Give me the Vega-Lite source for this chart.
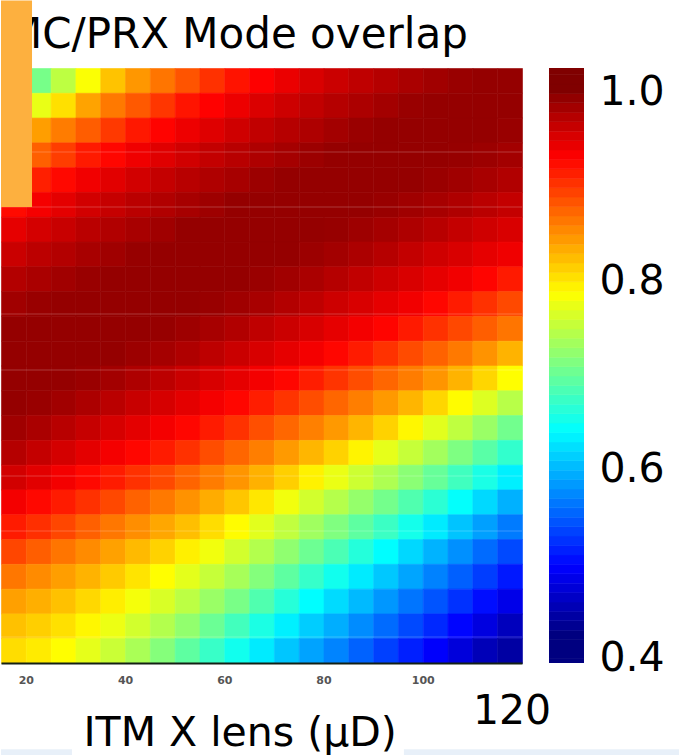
{
"$schema": "https://vega.github.io/schema/vega-lite/v6.json",
"padding": 0,
"background": "white",
"config": {"view": {"stroke": null}, "font": "DejaVu Sans"},
"datasets": {
"grid": [
{"x":15,"y":115,"v":0.670},{"x":20,"y":115,"v":0.705},{"x":25,"y":115,"v":0.745},{"x":30,"y":115,"v":0.780},{"x":35,"y":115,"v":0.817},{"x":40,"y":115,"v":0.842},{"x":45,"y":115,"v":0.861},{"x":50,"y":115,"v":0.880},{"x":55,"y":115,"v":0.900},{"x":60,"y":115,"v":0.917},{"x":65,"y":115,"v":0.928},{"x":70,"y":115,"v":0.939},{"x":75,"y":115,"v":0.949},{"x":80,"y":115,"v":0.957},{"x":85,"y":115,"v":0.964},{"x":90,"y":115,"v":0.970},{"x":95,"y":115,"v":0.976},{"x":100,"y":115,"v":0.981},{"x":105,"y":115,"v":0.986},{"x":110,"y":115,"v":0.988},{"x":115,"y":115,"v":0.988},
{"x":15,"y":110,"v":0.735},{"x":20,"y":110,"v":0.770},{"x":25,"y":110,"v":0.800},{"x":30,"y":110,"v":0.835},{"x":35,"y":110,"v":0.859},{"x":40,"y":110,"v":0.877},{"x":45,"y":110,"v":0.897},{"x":50,"y":110,"v":0.916},{"x":55,"y":110,"v":0.927},{"x":60,"y":110,"v":0.938},{"x":65,"y":110,"v":0.948},{"x":70,"y":110,"v":0.956},{"x":75,"y":110,"v":0.963},{"x":80,"y":110,"v":0.970},{"x":85,"y":110,"v":0.975},{"x":90,"y":110,"v":0.980},{"x":95,"y":110,"v":0.986},{"x":100,"y":110,"v":0.988},{"x":105,"y":110,"v":0.988},{"x":110,"y":110,"v":0.988},{"x":115,"y":110,"v":0.988},
{"x":15,"y":105,"v":0.811},{"x":20,"y":105,"v":0.838},{"x":25,"y":105,"v":0.857},{"x":30,"y":105,"v":0.875},{"x":35,"y":105,"v":0.895},{"x":40,"y":105,"v":0.914},{"x":45,"y":105,"v":0.926},{"x":50,"y":105,"v":0.937},{"x":55,"y":105,"v":0.946},{"x":60,"y":105,"v":0.955},{"x":65,"y":105,"v":0.963},{"x":70,"y":105,"v":0.969},{"x":75,"y":105,"v":0.974},{"x":80,"y":105,"v":0.980},{"x":85,"y":105,"v":0.985},{"x":90,"y":105,"v":0.988},{"x":95,"y":105,"v":0.988},{"x":100,"y":105,"v":0.988},{"x":105,"y":105,"v":0.988},{"x":110,"y":105,"v":0.988},{"x":115,"y":105,"v":0.986},
{"x":15,"y":100,"v":0.855},{"x":20,"y":100,"v":0.873},{"x":25,"y":100,"v":0.893},{"x":30,"y":100,"v":0.913},{"x":35,"y":100,"v":0.924},{"x":40,"y":100,"v":0.936},{"x":45,"y":100,"v":0.945},{"x":50,"y":100,"v":0.954},{"x":55,"y":100,"v":0.962},{"x":60,"y":100,"v":0.968},{"x":65,"y":100,"v":0.974},{"x":70,"y":100,"v":0.979},{"x":75,"y":100,"v":0.984},{"x":80,"y":100,"v":0.988},{"x":85,"y":100,"v":0.988},{"x":90,"y":100,"v":0.988},{"x":95,"y":100,"v":0.988},{"x":100,"y":100,"v":0.988},{"x":105,"y":100,"v":0.987},{"x":110,"y":100,"v":0.984},{"x":115,"y":100,"v":0.980},
{"x":15,"y":95,"v":0.890},{"x":20,"y":95,"v":0.910},{"x":25,"y":95,"v":0.923},{"x":30,"y":95,"v":0.935},{"x":35,"y":95,"v":0.944},{"x":40,"y":95,"v":0.953},{"x":45,"y":95,"v":0.961},{"x":50,"y":95,"v":0.968},{"x":55,"y":95,"v":0.973},{"x":60,"y":95,"v":0.978},{"x":65,"y":95,"v":0.984},{"x":70,"y":95,"v":0.988},{"x":75,"y":95,"v":0.988},{"x":80,"y":95,"v":0.988},{"x":85,"y":95,"v":0.988},{"x":90,"y":95,"v":0.988},{"x":95,"y":95,"v":0.988},{"x":100,"y":95,"v":0.985},{"x":105,"y":95,"v":0.982},{"x":110,"y":95,"v":0.977},{"x":115,"y":95,"v":0.972},
{"x":15,"y":90,"v":0.922},{"x":20,"y":90,"v":0.933},{"x":25,"y":90,"v":0.943},{"x":30,"y":90,"v":0.953},{"x":35,"y":90,"v":0.960},{"x":40,"y":90,"v":0.967},{"x":45,"y":90,"v":0.972},{"x":50,"y":90,"v":0.978},{"x":55,"y":90,"v":0.983},{"x":60,"y":90,"v":0.988},{"x":65,"y":90,"v":0.988},{"x":70,"y":90,"v":0.988},{"x":75,"y":90,"v":0.988},{"x":80,"y":90,"v":0.988},{"x":85,"y":90,"v":0.988},{"x":90,"y":90,"v":0.986},{"x":95,"y":90,"v":0.982},{"x":100,"y":90,"v":0.978},{"x":105,"y":90,"v":0.973},{"x":110,"y":90,"v":0.967},{"x":115,"y":90,"v":0.961},
{"x":15,"y":85,"v":0.942},{"x":20,"y":85,"v":0.952},{"x":25,"y":85,"v":0.959},{"x":30,"y":85,"v":0.967},{"x":35,"y":85,"v":0.972},{"x":40,"y":85,"v":0.977},{"x":45,"y":85,"v":0.982},{"x":50,"y":85,"v":0.988},{"x":55,"y":85,"v":0.988},{"x":60,"y":85,"v":0.988},{"x":65,"y":85,"v":0.988},{"x":70,"y":85,"v":0.988},{"x":75,"y":85,"v":0.988},{"x":80,"y":85,"v":0.987},{"x":85,"y":85,"v":0.983},{"x":90,"y":85,"v":0.979},{"x":95,"y":85,"v":0.974},{"x":100,"y":85,"v":0.968},{"x":105,"y":85,"v":0.961},{"x":110,"y":85,"v":0.955},{"x":115,"y":85,"v":0.949},
{"x":15,"y":80,"v":0.958},{"x":20,"y":80,"v":0.966},{"x":25,"y":80,"v":0.971},{"x":30,"y":80,"v":0.977},{"x":35,"y":80,"v":0.982},{"x":40,"y":80,"v":0.987},{"x":45,"y":80,"v":0.988},{"x":50,"y":80,"v":0.988},{"x":55,"y":80,"v":0.988},{"x":60,"y":80,"v":0.988},{"x":65,"y":80,"v":0.988},{"x":70,"y":80,"v":0.988},{"x":75,"y":80,"v":0.984},{"x":80,"y":80,"v":0.980},{"x":85,"y":80,"v":0.975},{"x":90,"y":80,"v":0.969},{"x":95,"y":80,"v":0.962},{"x":100,"y":80,"v":0.955},{"x":105,"y":80,"v":0.949},{"x":110,"y":80,"v":0.942},{"x":115,"y":80,"v":0.936},
{"x":15,"y":75,"v":0.971},{"x":20,"y":75,"v":0.976},{"x":25,"y":75,"v":0.981},{"x":30,"y":75,"v":0.986},{"x":35,"y":75,"v":0.988},{"x":40,"y":75,"v":0.988},{"x":45,"y":75,"v":0.988},{"x":50,"y":75,"v":0.988},{"x":55,"y":75,"v":0.988},{"x":60,"y":75,"v":0.988},{"x":65,"y":75,"v":0.985},{"x":70,"y":75,"v":0.981},{"x":75,"y":75,"v":0.976},{"x":80,"y":75,"v":0.970},{"x":85,"y":75,"v":0.963},{"x":90,"y":75,"v":0.956},{"x":95,"y":75,"v":0.949},{"x":100,"y":75,"v":0.942},{"x":105,"y":75,"v":0.935},{"x":110,"y":75,"v":0.925},{"x":115,"y":75,"v":0.913},
{"x":15,"y":70,"v":0.981},{"x":20,"y":70,"v":0.986},{"x":25,"y":70,"v":0.988},{"x":30,"y":70,"v":0.988},{"x":35,"y":70,"v":0.988},{"x":40,"y":70,"v":0.988},{"x":45,"y":70,"v":0.988},{"x":50,"y":70,"v":0.988},{"x":55,"y":70,"v":0.986},{"x":60,"y":70,"v":0.982},{"x":65,"y":70,"v":0.977},{"x":70,"y":70,"v":0.971},{"x":75,"y":70,"v":0.964},{"x":80,"y":70,"v":0.956},{"x":85,"y":70,"v":0.949},{"x":90,"y":70,"v":0.942},{"x":95,"y":70,"v":0.935},{"x":100,"y":70,"v":0.924},{"x":105,"y":70,"v":0.912},{"x":110,"y":70,"v":0.900},{"x":115,"y":70,"v":0.886},
{"x":15,"y":65,"v":0.988},{"x":20,"y":65,"v":0.988},{"x":25,"y":65,"v":0.988},{"x":30,"y":65,"v":0.988},{"x":35,"y":65,"v":0.988},{"x":40,"y":65,"v":0.988},{"x":45,"y":65,"v":0.987},{"x":50,"y":65,"v":0.983},{"x":55,"y":65,"v":0.978},{"x":60,"y":65,"v":0.972},{"x":65,"y":65,"v":0.964},{"x":70,"y":65,"v":0.957},{"x":75,"y":65,"v":0.950},{"x":80,"y":65,"v":0.942},{"x":85,"y":65,"v":0.934},{"x":90,"y":65,"v":0.925},{"x":95,"y":65,"v":0.913},{"x":100,"y":65,"v":0.900},{"x":105,"y":65,"v":0.887},{"x":110,"y":65,"v":0.874},{"x":115,"y":65,"v":0.861},
{"x":15,"y":60,"v":0.988},{"x":20,"y":60,"v":0.988},{"x":25,"y":60,"v":0.988},{"x":30,"y":60,"v":0.988},{"x":35,"y":60,"v":0.988},{"x":40,"y":60,"v":0.984},{"x":45,"y":60,"v":0.979},{"x":50,"y":60,"v":0.973},{"x":55,"y":60,"v":0.965},{"x":60,"y":60,"v":0.958},{"x":65,"y":60,"v":0.950},{"x":70,"y":60,"v":0.942},{"x":75,"y":60,"v":0.934},{"x":80,"y":60,"v":0.924},{"x":85,"y":60,"v":0.912},{"x":90,"y":60,"v":0.899},{"x":95,"y":60,"v":0.885},{"x":100,"y":60,"v":0.872},{"x":105,"y":60,"v":0.859},{"x":110,"y":60,"v":0.844},{"x":115,"y":60,"v":0.826},
{"x":15,"y":55,"v":0.988},{"x":20,"y":55,"v":0.988},{"x":25,"y":55,"v":0.988},{"x":30,"y":55,"v":0.985},{"x":35,"y":55,"v":0.980},{"x":40,"y":55,"v":0.974},{"x":45,"y":55,"v":0.966},{"x":50,"y":55,"v":0.958},{"x":55,"y":55,"v":0.950},{"x":60,"y":55,"v":0.942},{"x":65,"y":55,"v":0.934},{"x":70,"y":55,"v":0.924},{"x":75,"y":55,"v":0.911},{"x":80,"y":55,"v":0.898},{"x":85,"y":55,"v":0.884},{"x":90,"y":55,"v":0.870},{"x":95,"y":55,"v":0.857},{"x":100,"y":55,"v":0.843},{"x":105,"y":55,"v":0.826},{"x":110,"y":55,"v":0.806},{"x":115,"y":55,"v":0.783},
{"x":15,"y":50,"v":0.988},{"x":20,"y":50,"v":0.986},{"x":25,"y":50,"v":0.981},{"x":30,"y":50,"v":0.975},{"x":35,"y":50,"v":0.967},{"x":40,"y":50,"v":0.959},{"x":45,"y":50,"v":0.951},{"x":50,"y":50,"v":0.943},{"x":55,"y":50,"v":0.933},{"x":60,"y":50,"v":0.924},{"x":65,"y":50,"v":0.911},{"x":70,"y":50,"v":0.898},{"x":75,"y":50,"v":0.884},{"x":80,"y":50,"v":0.870},{"x":85,"y":50,"v":0.856},{"x":90,"y":50,"v":0.841},{"x":95,"y":50,"v":0.825},{"x":100,"y":50,"v":0.806},{"x":105,"y":50,"v":0.784},{"x":110,"y":50,"v":0.763},{"x":115,"y":50,"v":0.742},
{"x":15,"y":45,"v":0.982},{"x":20,"y":45,"v":0.976},{"x":25,"y":45,"v":0.968},{"x":30,"y":45,"v":0.960},{"x":35,"y":45,"v":0.951},{"x":40,"y":45,"v":0.943},{"x":45,"y":45,"v":0.933},{"x":50,"y":45,"v":0.924},{"x":55,"y":45,"v":0.912},{"x":60,"y":45,"v":0.899},{"x":65,"y":45,"v":0.883},{"x":70,"y":45,"v":0.869},{"x":75,"y":45,"v":0.855},{"x":80,"y":45,"v":0.841},{"x":85,"y":45,"v":0.825},{"x":90,"y":45,"v":0.808},{"x":95,"y":45,"v":0.787},{"x":100,"y":45,"v":0.766},{"x":105,"y":45,"v":0.746},{"x":110,"y":45,"v":0.725},{"x":115,"y":45,"v":0.702},
{"x":15,"y":40,"v":0.970},{"x":20,"y":40,"v":0.961},{"x":25,"y":40,"v":0.952},{"x":30,"y":40,"v":0.943},{"x":35,"y":40,"v":0.933},{"x":40,"y":40,"v":0.924},{"x":45,"y":40,"v":0.912},{"x":50,"y":40,"v":0.900},{"x":55,"y":40,"v":0.884},{"x":60,"y":40,"v":0.870},{"x":65,"y":40,"v":0.856},{"x":70,"y":40,"v":0.840},{"x":75,"y":40,"v":0.824},{"x":80,"y":40,"v":0.808},{"x":85,"y":40,"v":0.789},{"x":90,"y":40,"v":0.768},{"x":95,"y":40,"v":0.750},{"x":100,"y":40,"v":0.730},{"x":105,"y":40,"v":0.709},{"x":110,"y":40,"v":0.688},{"x":115,"y":40,"v":0.666},
{"x":15,"y":35,"v":0.953},{"x":20,"y":35,"v":0.944},{"x":25,"y":35,"v":0.934},{"x":30,"y":35,"v":0.923},{"x":35,"y":35,"v":0.912},{"x":40,"y":35,"v":0.900},{"x":45,"y":35,"v":0.886},{"x":50,"y":35,"v":0.871},{"x":55,"y":35,"v":0.857},{"x":60,"y":35,"v":0.843},{"x":65,"y":35,"v":0.827},{"x":70,"y":35,"v":0.810},{"x":75,"y":35,"v":0.790},{"x":80,"y":35,"v":0.771},{"x":85,"y":35,"v":0.754},{"x":90,"y":35,"v":0.736},{"x":95,"y":35,"v":0.716},{"x":100,"y":35,"v":0.696},{"x":105,"y":35,"v":0.674},{"x":110,"y":35,"v":0.652},{"x":115,"y":35,"v":0.629},
{"x":15,"y":30,"v":0.934},{"x":20,"y":30,"v":0.923},{"x":25,"y":30,"v":0.912},{"x":30,"y":30,"v":0.900},{"x":35,"y":30,"v":0.887},{"x":40,"y":30,"v":0.872},{"x":45,"y":30,"v":0.859},{"x":50,"y":30,"v":0.845},{"x":55,"y":30,"v":0.830},{"x":60,"y":30,"v":0.815},{"x":65,"y":30,"v":0.796},{"x":70,"y":30,"v":0.775},{"x":75,"y":30,"v":0.757},{"x":80,"y":30,"v":0.740},{"x":85,"y":30,"v":0.722},{"x":90,"y":30,"v":0.703},{"x":95,"y":30,"v":0.683},{"x":100,"y":30,"v":0.662},{"x":105,"y":30,"v":0.639},{"x":110,"y":30,"v":0.616},{"x":115,"y":30,"v":0.593},
{"x":15,"y":25,"v":0.912},{"x":20,"y":25,"v":0.901},{"x":25,"y":25,"v":0.888},{"x":30,"y":25,"v":0.873},{"x":35,"y":25,"v":0.860},{"x":40,"y":25,"v":0.847},{"x":45,"y":25,"v":0.833},{"x":50,"y":25,"v":0.819},{"x":55,"y":25,"v":0.802},{"x":60,"y":25,"v":0.784},{"x":65,"y":25,"v":0.766},{"x":70,"y":25,"v":0.747},{"x":75,"y":25,"v":0.728},{"x":80,"y":25,"v":0.710},{"x":85,"y":25,"v":0.691},{"x":90,"y":25,"v":0.671},{"x":95,"y":25,"v":0.649},{"x":100,"y":25,"v":0.626},{"x":105,"y":25,"v":0.604},{"x":110,"y":25,"v":0.583},{"x":115,"y":25,"v":0.562},
{"x":15,"y":20,"v":0.888},{"x":20,"y":20,"v":0.874},{"x":25,"y":20,"v":0.861},{"x":30,"y":20,"v":0.849},{"x":35,"y":20,"v":0.836},{"x":40,"y":20,"v":0.822},{"x":45,"y":20,"v":0.808},{"x":50,"y":20,"v":0.791},{"x":55,"y":20,"v":0.775},{"x":60,"y":20,"v":0.757},{"x":65,"y":20,"v":0.739},{"x":70,"y":20,"v":0.719},{"x":75,"y":20,"v":0.699},{"x":80,"y":20,"v":0.680},{"x":85,"y":20,"v":0.658},{"x":90,"y":20,"v":0.637},{"x":95,"y":20,"v":0.615},{"x":100,"y":20,"v":0.594},{"x":105,"y":20,"v":0.574},{"x":110,"y":20,"v":0.553},{"x":115,"y":20,"v":0.534},
{"x":15,"y":15,"v":0.860},{"x":20,"y":15,"v":0.849},{"x":25,"y":15,"v":0.838},{"x":30,"y":15,"v":0.826},{"x":35,"y":15,"v":0.813},{"x":40,"y":15,"v":0.798},{"x":45,"y":15,"v":0.783},{"x":50,"y":15,"v":0.767},{"x":55,"y":15,"v":0.750},{"x":60,"y":15,"v":0.732},{"x":65,"y":15,"v":0.712},{"x":70,"y":15,"v":0.691},{"x":75,"y":15,"v":0.668},{"x":80,"y":15,"v":0.647},{"x":85,"y":15,"v":0.626},{"x":90,"y":15,"v":0.606},{"x":95,"y":15,"v":0.586},{"x":100,"y":15,"v":0.566},{"x":105,"y":15,"v":0.547},{"x":110,"y":15,"v":0.527},{"x":115,"y":15,"v":0.506},
{"x":15,"y":10,"v":0.837},{"x":20,"y":10,"v":0.828},{"x":25,"y":10,"v":0.818},{"x":30,"y":10,"v":0.805},{"x":35,"y":10,"v":0.792},{"x":40,"y":10,"v":0.777},{"x":45,"y":10,"v":0.761},{"x":50,"y":10,"v":0.744},{"x":55,"y":10,"v":0.725},{"x":60,"y":10,"v":0.706},{"x":65,"y":10,"v":0.683},{"x":70,"y":10,"v":0.659},{"x":75,"y":10,"v":0.637},{"x":80,"y":10,"v":0.617},{"x":85,"y":10,"v":0.598},{"x":90,"y":10,"v":0.578},{"x":95,"y":10,"v":0.559},{"x":100,"y":10,"v":0.540},{"x":105,"y":10,"v":0.520},{"x":110,"y":10,"v":0.500},{"x":115,"y":10,"v":0.480},
{"x":15,"y":5,"v":0.818},{"x":20,"y":5,"v":0.810},{"x":25,"y":5,"v":0.800},{"x":30,"y":5,"v":0.787},{"x":35,"y":5,"v":0.772},{"x":40,"y":5,"v":0.757},{"x":45,"y":5,"v":0.739},{"x":50,"y":5,"v":0.720},{"x":55,"y":5,"v":0.698},{"x":60,"y":5,"v":0.675},{"x":65,"y":5,"v":0.653},{"x":70,"y":5,"v":0.629},{"x":75,"y":5,"v":0.609},{"x":80,"y":5,"v":0.591},{"x":85,"y":5,"v":0.572},{"x":90,"y":5,"v":0.553},{"x":95,"y":5,"v":0.534},{"x":100,"y":5,"v":0.515},{"x":105,"y":5,"v":0.495},{"x":110,"y":5,"v":0.475},{"x":115,"y":5,"v":0.455},
{"x":15,"y":0,"v":0.802},{"x":20,"y":0,"v":0.794},{"x":25,"y":0,"v":0.783},{"x":30,"y":0,"v":0.768},{"x":35,"y":0,"v":0.752},{"x":40,"y":0,"v":0.734},{"x":45,"y":0,"v":0.713},{"x":50,"y":0,"v":0.691},{"x":55,"y":0,"v":0.669},{"x":60,"y":0,"v":0.647},{"x":65,"y":0,"v":0.626},{"x":70,"y":0,"v":0.605},{"x":75,"y":0,"v":0.585},{"x":80,"y":0,"v":0.567},{"x":85,"y":0,"v":0.548},{"x":90,"y":0,"v":0.529},{"x":95,"y":0,"v":0.510},{"x":100,"y":0,"v":0.491},{"x":105,"y":0,"v":0.472},{"x":110,"y":0,"v":0.452},{"x":115,"y":0,"v":0.440}
],
"bar": [
{"c":0.39},{"c":0.40},{"c":0.41},{"c":0.42},{"c":0.43},{"c":0.44},{"c":0.45},{"c":0.46},{"c":0.47},{"c":0.48},{"c":0.49},{"c":0.50},{"c":0.51},{"c":0.52},{"c":0.53},{"c":0.54},{"c":0.55},{"c":0.56},{"c":0.57},{"c":0.58},{"c":0.59},{"c":0.60},{"c":0.61},{"c":0.62},{"c":0.63},{"c":0.64},{"c":0.65},{"c":0.66},{"c":0.67},{"c":0.68},{"c":0.69},{"c":0.70},{"c":0.71},{"c":0.72},{"c":0.73},{"c":0.74},{"c":0.75},{"c":0.76},{"c":0.77},{"c":0.78},{"c":0.79},{"c":0.80},{"c":0.81},{"c":0.82},{"c":0.83},{"c":0.84},{"c":0.85},{"c":0.86},{"c":0.87},{"c":0.88},{"c":0.89},{"c":0.90},{"c":0.91},{"c":0.92},{"c":0.93},{"c":0.94},{"c":0.95},{"c":0.96},{"c":0.97},{"c":0.98},{"c":0.99},{"c":1.00},{"c":1.01},{"c":1.02}
],
"lines": [{"ly":103.06},{"ly":91.96},{"ly":70.38},{"ly":59.09},{"ly":37.71},{"ly":26.62},{"ly":5.24}],
"strip": [{"a":15,"b":29.3},{"a":96.2,"b":152}]
},
"spacing": 27,
"bounds": "flush",
"resolve": {"scale": {"x": "independent", "y": "independent", "color": "independent", "stroke": "independent"}},
"hconcat": [
{
"width": 521,
"height": 595,
"layer": [
{
"data": {"name": "grid"},
"mark": {"type": "rect", "strokeWidth": 0.6},
"encoding": {
"x": {"field": "x", "type": "quantitative", "bin": {"binned": true, "step": 5},
"scale": {"domain": [15, 120], "nice": false, "zero": false},
"axis": {"values": [20, 40, 60, 80, 100], "format": "d", "grid": false, "ticks": false,
"labelFontSize": 11, "labelFontWeight": "bold", "labelColor": "#555555", "labelPadding": 11, "labelFont": "DejaVu Sans",
"domainColor": "#142014", "domainWidth": 2,
"title": "ITM X lens (μD)", "titleFont": "DejaVu Sans", "titleFontSize": 41, "titleFontWeight": "normal", "titleColor": "black",
"titleAnchor": "start", "titleAlign": "left", "titleX": 82, "titleY": 82, "titleBaseline": "alphabetic"}},
"y": {"field": "y", "type": "quantitative", "bin": {"binned": true, "step": 5},
"scale": {"domain": [0, 120], "nice": false, "zero": false}, "axis": null},
"color": {"field": "v", "type": "quantitative", "legend": null,
"scale": {"type": "linear", "domain": [0.42, 0.4925, 0.565, 0.6375, 0.71, 0.7825, 0.855, 0.9275, 1.0],
"range": ["#000080", "#0000ff", "#0080ff", "#00ffff", "#80ff80", "#ffff00", "#ff8000", "#ff0000", "#800000"], "interpolate": "rgb", "clamp": true}},
"stroke": {"field": "v", "type": "quantitative", "legend": null,
"scale": {"type": "linear", "domain": [0.42, 0.4925, 0.565, 0.6375, 0.71, 0.7825, 0.855, 0.9275, 1.0],
"range": ["#000080", "#0000ff", "#0080ff", "#00ffff", "#80ff80", "#ffff00", "#ff8000", "#ff0000", "#800000"], "interpolate": "rgb", "clamp": true}}
}
},
{
"data": {"name": "lines"},
"mark": {"type": "rule", "color": "white", "opacity": 0.15, "strokeWidth": 1.5},
"encoding": {"y": {"field": "ly", "type": "quantitative"}}
},
{
"data": {"name": "strip"},
"mark": {"type": "rect", "color": "#e8f0f9"},
"encoding": {"x": {"field": "a", "type": "quantitative"}, "x2": {"field": "b"}, "y": {"datum": -17.4}, "y2": {"datum": -18.8}}
},
{
"data": {"values": [{"t": "MC/PRX Mode overlap"}]},
"mark": {"type": "text", "font": "DejaVu Sans", "fontSize": 42, "align": "left", "baseline": "alphabetic", "color": "black"},
"encoding": {"text": {"field": "t"}, "x": {"datum": 16.0}, "y": {"datum": 124.03}}
},
{
"data": {"values": [{}]},
"mark": {"type": "rect", "color": "#fdb03f"},
"encoding": {"x": {"datum": 15}, "x2": {"datum": 21.25}, "y": {"datum": 133.6}, "y2": {"datum": 91.96}}
},
{
"data": {"values": [{"t": "120"}]},
"mark": {"type": "text", "font": "DejaVu Sans", "fontSize": 41, "align": "center", "baseline": "alphabetic", "color": "black"},
"encoding": {"text": {"field": "t"}, "x": {"datum": 118.0}, "y": {"datum": -12.3}}
}
]
},
{
"width": 35,
"height": 595,
"data": {"name": "bar"},
"mark": {"type": "rect", "clip": true, "strokeWidth": 0.6},
"encoding": {
"y": {"field": "c", "type": "quantitative", "bin": {"binned": true, "step": 0.01},
"scale": {"domain": [0.3947, 1.0265], "nice": false, "zero": false},
"axis": {"orient": "right", "values": [0.4, 0.6, 0.8, 1.0], "format": ".1f", "domain": false, "ticks": false, "grid": false, "title": null,
"labelFontSize": 41, "labelFont": "DejaVu Sans", "labelColor": "black", "labelPadding": 15, "labelBaseline": "middle"}},
"color": {"field": "c", "type": "quantitative", "legend": null,
"scale": {"type": "linear", "domain": [0.42, 0.4925, 0.565, 0.6375, 0.71, 0.7825, 0.855, 0.9275, 1.0],
"range": ["#000080", "#0000ff", "#0080ff", "#00ffff", "#80ff80", "#ffff00", "#ff8000", "#ff0000", "#800000"], "interpolate": "rgb", "clamp": true}},
"stroke": {"field": "c", "type": "quantitative", "legend": null,
"scale": {"type": "linear", "domain": [0.42, 0.4925, 0.565, 0.6375, 0.71, 0.7825, 0.855, 0.9275, 1.0],
"range": ["#000080", "#0000ff", "#0080ff", "#00ffff", "#80ff80", "#ffff00", "#ff8000", "#ff0000", "#800000"], "interpolate": "rgb", "clamp": true}}
}
}
]
}
